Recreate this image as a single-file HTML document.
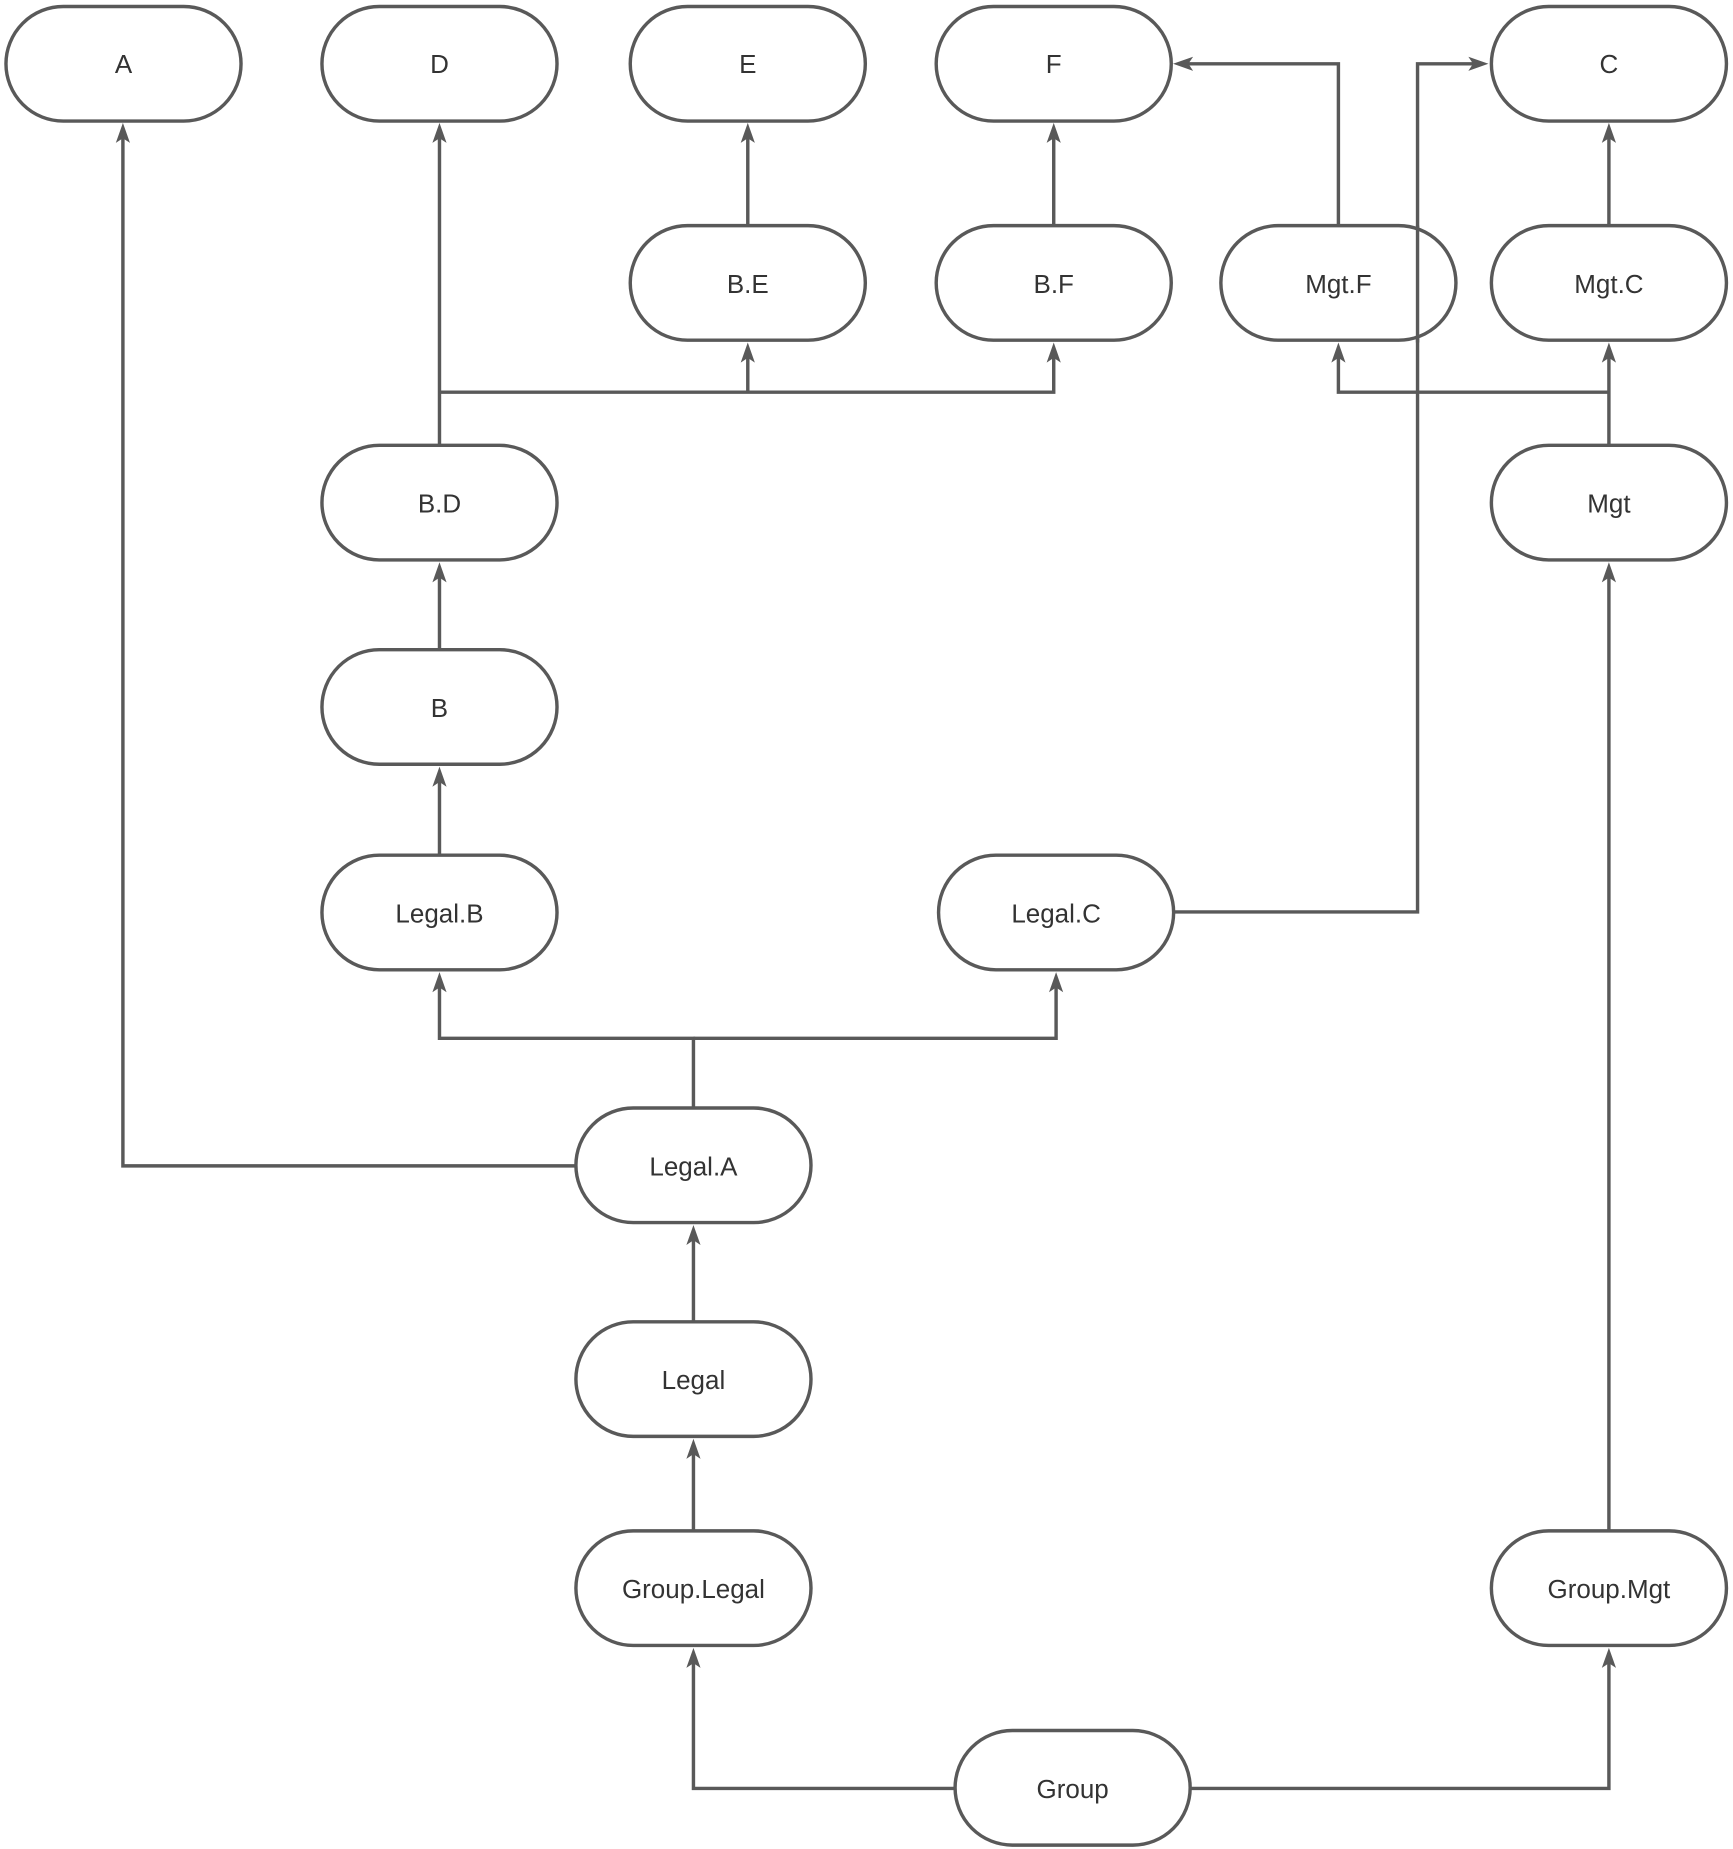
<!DOCTYPE html>
<html><head><meta charset="utf-8"><style>html,body{margin:0;padding:0;background:#fff}svg{display:block}</style></head>
<body>
<svg width="1733" height="1849" viewBox="0 0 1467 1565.3" xmlns="http://www.w3.org/2000/svg">
<g fill="none" stroke="#595959" stroke-width="2.9">
<path d="M487,987 H104 V110"/>
<path d="M372,377 V110"/>
<path d="M372,332 H892 V296"/>
<path d="M633,332 V296"/>
<path d="M633,191 V110"/>
<path d="M892,191 V110"/>
<path d="M1133,191 V54 H999"/>
<path d="M993,772 H1200 V54 H1254"/>
<path d="M1362,191 V110"/>
<path d="M1362,377 V296"/>
<path d="M1362,332 H1133 V296"/>
<path d="M372,550 V482"/>
<path d="M372,724 V655"/>
<path d="M587,938 V879 H372 V829"/>
<path d="M587,879 H894 V829"/>
<path d="M587,1119 V1043"/>
<path d="M587,1296 V1224"/>
<path d="M808,1514 H587 V1401"/>
<path d="M1007,1514 H1362 V1401"/>
<path d="M1362,1296 V482"/>
</g>
<g fill="#595959">
<path d="M104,104 l-6,17 l6,-4 l6,4z"/>
<path d="M372,104 l-6,17 l6,-4 l6,4z"/>
<path d="M633,104 l-6,17 l6,-4 l6,4z"/>
<path d="M892,104 l-6,17 l6,-4 l6,4z"/>
<path d="M1362,104 l-6,17 l6,-4 l6,4z"/>
<path d="M633,290 l-6,17 l6,-4 l6,4z"/>
<path d="M892,290 l-6,17 l6,-4 l6,4z"/>
<path d="M1133,290 l-6,17 l6,-4 l6,4z"/>
<path d="M1362,290 l-6,17 l6,-4 l6,4z"/>
<path d="M372,476 l-6,17 l6,-4 l6,4z"/>
<path d="M1362,476 l-6,17 l6,-4 l6,4z"/>
<path d="M372,649 l-6,17 l6,-4 l6,4z"/>
<path d="M372,823 l-6,17 l6,-4 l6,4z"/>
<path d="M894,823 l-6,17 l6,-4 l6,4z"/>
<path d="M587,1037 l-6,17 l6,-4 l6,4z"/>
<path d="M587,1218 l-6,17 l6,-4 l6,4z"/>
<path d="M587,1395 l-6,17 l6,-4 l6,4z"/>
<path d="M1362,1395 l-6,17 l6,-4 l6,4z"/>
<path d="M993,54 l17,-6 l-4,6 l4,6z"/>
<path d="M1260,54 l-17,-6 l4,6 l-4,6z"/>
</g>
<g fill="#fff" stroke="#595959" stroke-width="2.9">
<rect x="5" y="5.5" width="199" height="97" rx="48.5"/>
<rect x="272.5" y="5.5" width="199" height="97" rx="48.5"/>
<rect x="533.5" y="5.5" width="199" height="97" rx="48.5"/>
<rect x="792.5" y="5.5" width="199" height="97" rx="48.5"/>
<rect x="1262.5" y="5.5" width="199" height="97" rx="48.5"/>
<rect x="533.5" y="191" width="199" height="97" rx="48.5"/>
<rect x="792.5" y="191" width="199" height="97" rx="48.5"/>
<rect x="1033.5" y="191" width="199" height="97" rx="48.5"/>
<rect x="1262.5" y="191" width="199" height="97" rx="48.5"/>
<rect x="272.5" y="377" width="199" height="97" rx="48.5"/>
<rect x="1262.5" y="377" width="199" height="97" rx="48.5"/>
<rect x="272.5" y="550" width="199" height="97" rx="48.5"/>
<rect x="272.5" y="724" width="199" height="97" rx="48.5"/>
<rect x="794.5" y="724" width="199" height="97" rx="48.5"/>
<rect x="487.5" y="938" width="199" height="97" rx="48.5"/>
<rect x="487.5" y="1119" width="199" height="97" rx="48.5"/>
<rect x="487.5" y="1296" width="199" height="97" rx="48.5"/>
<rect x="1262.5" y="1296" width="199" height="97" rx="48.5"/>
<rect x="808.5" y="1465" width="199" height="97" rx="48.5"/>
</g>
<path d="M1200,290 V191" stroke="#595959" stroke-width="2.9" fill="none"/>
<g font-family="Liberation Sans, sans-serif" font-size="22" fill="#333" text-anchor="middle">
<text x="104.5" y="62">A</text>
<text x="372" y="62">D</text>
<text x="633" y="62">E</text>
<text x="892" y="62">F</text>
<text x="1362" y="62">C</text>
<text x="633" y="248">B.E</text>
<text x="892" y="248">B.F</text>
<text x="1133" y="248">Mgt.F</text>
<text x="1362" y="248">Mgt.C</text>
<text x="372" y="434">B.D</text>
<text x="1362" y="434">Mgt</text>
<text x="372" y="607">B</text>
<text x="372" y="781">Legal.B</text>
<text x="894" y="781">Legal.C</text>
<text x="587" y="995">Legal.A</text>
<text x="587" y="1176">Legal</text>
<text x="587" y="1353">Group.Legal</text>
<text x="1362" y="1353">Group.Mgt</text>
<text x="908" y="1522">Group</text>
</g>
</svg>
</body></html>
